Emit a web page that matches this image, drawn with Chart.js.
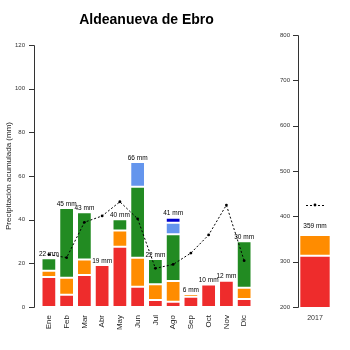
<!DOCTYPE html>
<html>
<head>
<meta charset="utf-8">
<script src="https://cdn.jsdelivr.net/npm/chart.js@4/dist/chart.umd.min.js"></script>
<style>
  html, body { margin: 0; padding: 0; background: #fff; }
  #wrap { position: relative; width: 350px; height: 350px; overflow: hidden; }
  #title { position: absolute; left: 0; top: 11px; width: 293px; text-align: center;
           font: bold 14px "Liberation Sans", Arial, sans-serif; line-height: 16px; color: #000; }
  #monthly { position: absolute; left: 0; top: 0; }
  #annual { position: absolute; left: 262px; top: 0; }
</style>
</head>
<body>
<div id="wrap">
  <canvas id="monthly" width="262" height="350"></canvas>
  <canvas id="annual" width="88" height="350"></canvas>
  <div id="title">Aldeanueva de Ebro</div>
</div>
<script>
// Monthly precipitation (mm), split into stacked components
const months = ['Ene', 'Feb', 'Mar', 'Abr', 'May', 'Jun', 'Jul', 'Ago', 'Sep', 'Oct', 'Nov', 'Dic'];
const redPart    = [13.7, 5.6, 14.7, 19.2, 27.6, 9.3, 3.2, 2.4, 4.7, 10.3, 12.0, 3.7];
const orangePart = [2.9, 7.8, 7.1, 0, 7.4, 13.3, 7.2, 9.5, 1.2, 0, 0, 5.1];
const greenPart  = [5.7, 31.9, 21.6, 0, 5.2, 32.5, 11.6, 21.4, 0, 0, 0, 21.3];
const lightBluePart = [0, 0, 0, 0, 0, 11.3, 0, 5.3, 0, 0, 0, 0];
const darkBluePart  = [0, 0, 0, 0, 0, 0, 0, 2.3, 0, 0, 0, 0];
// Long-term monthly mean (mm)
const monthlyMean = [24, 22.6, 38.8, 41.7, 48.2, 40.4, 17.7, 19.5, 24.7, 33, 46.7, 21.2];
const monthTicks = [0, 20, 40, 60, 80, 100, 120];

// Annual total
const years = ['2017'];
const annualRed = [313];
const annualOrange = [46];
const annualMean = [425];
const annualTicks = [200, 300, 400, 500, 600, 700, 800];

const FONT = '"Liberation Sans", Arial, sans-serif';
const COLORS = {
  red: '#EE2C2C', orange: '#FF8C00', green: '#228B22',
  lightBlue: '#6495ED', darkBlue: '#0000CD'
};

function barSet(label, data, color) {
  return {
    type: 'bar', label, data, backgroundColor: color,
    borderColor: 'rgba(255,255,255,0.55)', borderWidth: 1, borderSkipped: false,
    stack: 'total', order: 1
  };
}

// R-style y axis: a line from first to last tick with outward tick marks
const axisLine = {
  id: 'axisLine',
  afterDraw(chart, args, opts) {
    const { ctx, chartArea } = chart;
    const y = chart.scales.y;
    const x0 = chartArea.left - opts.gap;
    ctx.save();
    ctx.strokeStyle = '#333';
    ctx.lineWidth = 1;
    ctx.beginPath();
    ctx.moveTo(x0 + 0.5, Math.round(y.getPixelForValue(y.min)) + 0.5);
    ctx.lineTo(x0 + 0.5, Math.round(y.getPixelForValue(y.max)) + 0.5);
    y.ticks.forEach(t => {
      const py = Math.round(y.getPixelForValue(t.value)) + 0.5;
      ctx.moveTo(x0 + 0.5, py);
      ctx.lineTo(x0 - 5, py);
    });
    ctx.stroke();
    ctx.restore();
  }
};

// Total labels above each stacked column
const totalLabels = {
  id: 'totalLabels',
  afterDatasetsDraw(chart, args, opts) {
    const { ctx } = chart;
    const xs = chart.scales.x, ys = chart.scales.y;
    const bars = chart.data.datasets.filter(d => d.type === 'bar');
    ctx.save();
    ctx.font = '6.5px ' + FONT;
    ctx.fillStyle = '#000';
    ctx.textAlign = 'center';
    ctx.textBaseline = 'bottom';
    chart.data.labels.forEach((lab, i) => {
      const total = bars.reduce((s, d) => s + (d.data[i] || 0), 0);
      const px = xs.getPixelForValue(i);
      const py = ys.getPixelForValue(total);
      ctx.fillText(Math.round(total) + ' mm', px, py - opts.lift);
    });
    ctx.restore();
  }
};

// Short dashed bar marking the mean on the annual panel
const meanMarker = {
  id: 'meanMarker',
  afterDatasetsDraw(chart) {
    const { ctx } = chart;
    const xs = chart.scales.x, ys = chart.scales.y;
    const mean = chart.data.datasets.find(d => d.type === 'line');
    ctx.save();
    ctx.strokeStyle = '#000';
    ctx.fillStyle = '#000';
    ctx.lineWidth = 1;
    ctx.setLineDash([2, 2]);
    mean.data.forEach((v, i) => {
      const px = xs.getPixelForValue(i);
      const py = Math.round(ys.getPixelForValue(v)) + 0.5;
      ctx.beginPath();
      ctx.moveTo(px - 9, py);
      ctx.lineTo(px + 9, py);
      ctx.stroke();
    });
    ctx.restore();
  }
};

new Chart(document.getElementById('monthly'), {
  data: {
    labels: months,
    datasets: [
      {
        type: 'line', label: 'Media', data: monthlyMean, stack: 'mean', order: 0,
        borderColor: '#000', borderWidth: 1, borderDash: [2, 2],
        pointRadius: 1.4, pointBackgroundColor: '#000', pointBorderWidth: 0,
        tension: 0, fill: false
      },
      barSet('a', redPart, COLORS.red),
      barSet('b', orangePart, COLORS.orange),
      barSet('c', greenPart, COLORS.green),
      barSet('d', lightBluePart, COLORS.lightBlue),
      barSet('e', darkBluePart, COLORS.darkBlue)
    ]
  },
  options: {
    responsive: false,
    animation: false,
    events: [],
    layout: { padding: { top: 45, right: 6, left: 0, bottom: 0 } },
    datasets: { bar: { barPercentage: 0.83, categoryPercentage: 1 } },
    plugins: {
      legend: { display: false },
      tooltip: { enabled: false },
      axisLine: { gap: 6 },
      totalLabels: { lift: 1 }
    },
    scales: {
      x: {
        type: 'category', stacked: true, offset: true,
        grid: { display: false, drawTicks: false }, border: { display: false },
        ticks: { autoSkip: false, minRotation: 90, maxRotation: 90, padding: 8,
                 color: '#222', font: { family: FONT, size: 8 } },
        afterFit(s) { s.height = 43; }
      },
      y: {
        type: 'linear', stacked: true, min: 0, max: 120,
        grid: { display: false, drawTicks: false }, border: { display: false },
        afterBuildTicks(s) { s.ticks = monthTicks.map(v => ({ value: v })); },
        ticks: { padding: 15, color: '#333', font: { family: FONT, size: 6 } },
        title: { display: true, text: 'Precipitación acumulada (mm)', color: '#222',
                 font: { family: FONT, size: 8 }, padding: { top: 4, bottom: 0 } },
        afterFit(s) { s.width = 40; }
      }
    }
  },
  plugins: [axisLine, totalLabels]
});

new Chart(document.getElementById('annual'), {
  data: {
    labels: years,
    datasets: [
      {
        type: 'line', label: 'Media', data: annualMean, stack: 'mean', order: 0,
        borderColor: '#000', borderWidth: 1, pointRadius: 1.4,
        pointBackgroundColor: '#000', pointBorderWidth: 0, showLine: false
      },
      barSet('a', annualRed, COLORS.red),
      barSet('b', annualOrange, COLORS.orange)
    ]
  },
  options: {
    responsive: false,
    animation: false,
    events: [],
    layout: { padding: { top: 35, right: 19, left: 0, bottom: 0 } },
    datasets: { bar: { barPercentage: 0.98, categoryPercentage: 1 } },
    plugins: {
      legend: { display: false },
      tooltip: { enabled: false },
      axisLine: { gap: 1 },
      totalLabels: { lift: 5 }
    },
    scales: {
      x: {
        type: 'category', stacked: true, offset: true,
        grid: { display: false, drawTicks: false }, border: { display: false },
        ticks: { maxRotation: 0, padding: 7, color: '#333', font: { family: FONT, size: 7 } },
        afterFit(s) { s.height = 43; }
      },
      y: {
        type: 'linear', stacked: true, min: 200, max: 800,
        grid: { display: false, drawTicks: false }, border: { display: false },
        afterBuildTicks(s) { s.ticks = annualTicks.map(v => ({ value: v })); },
        ticks: { padding: 9, color: '#333', font: { family: FONT, size: 6 } },
        afterFit(s) { s.width = 37; }
      }
    }
  },
  plugins: [axisLine, totalLabels, meanMarker]
});
</script>
</body>
</html>
